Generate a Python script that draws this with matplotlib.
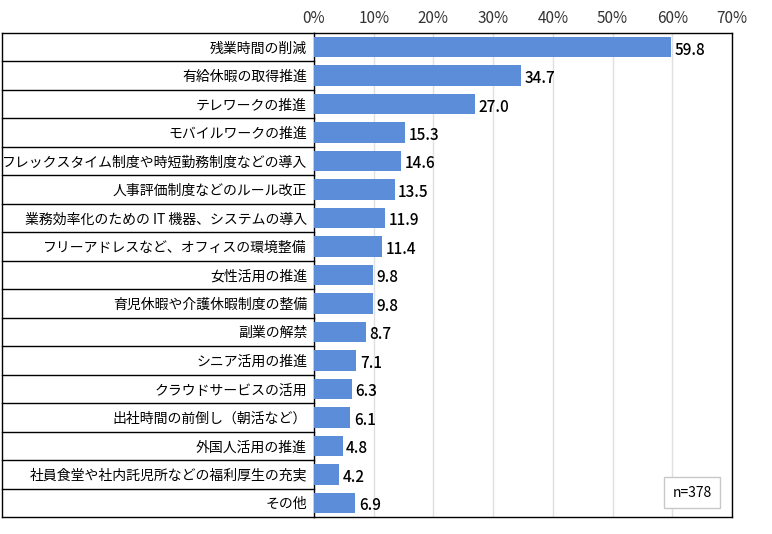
import matplotlib.pyplot as plt
import matplotlib.transforms as mtransforms

plt.rcParams['font.family'] = ['Noto Sans CJK JP', 'DejaVu Sans']

# data, top to bottom
categories = ['残業時間の削減',
              '有給休暇の取得推進',
              'テレワークの推進',
              'モバイルワークの推進',
              'フレックスタイム制度や時短勤務制度などの導入',
              '人事評価制度などのルール改正',
              '業務効率化のための IT 機器、システムの導入',
              'フリーアドレスなど、オフィスの環境整備',
              '女性活用の推進',
              '育児休暇や介護休暇制度の整備',
              '副業の解禁',
              'シニア活用の推進',
              'クラウドサービスの活用',
              '出社時間の前倒し（朝活など）',
              '外国人活用の推進',
              '社員食堂や社内託児所などの福利厚生の充実',
              'その他']
values = [59.8, 34.7, 27.0, 15.3, 14.6, 13.5, 11.9, 11.4, 9.8, 9.8,
          8.7, 7.1, 6.3, 6.1, 4.8, 4.2, 6.9]
xticks = [0, 10, 20, 30, 40, 50, 60, 70]
note = 'n=378'

W, H = 772, 534
fig = plt.figure(figsize=(W / 100, H / 100), dpi=100)
left, right, top, bottom = 314, 732, 33, 517
ax = fig.add_axes([left / W, 1 - bottom / H, (right - left) / W, (bottom - top) / H])

n = len(categories)
ypos = list(range(n))
ax.barh(ypos, values, height=0.72, color='#5b8dd9', zorder=3)
ax.set_ylim(n - 0.5, -0.5)
ax.set_xlim(0, 70)

# value labels
for y, v in zip(ypos, values):
    ax.text(v + 0.6, y + 0.1, '%.1f' % v, va='center', ha='left', fontsize=11,
            fontweight='medium', color='black')

# top axis
ax.xaxis.tick_top()
ax.set_xticks(xticks)
ax.set_xticklabels(['%d%%' % t for t in xticks], fontsize=11, color='#333333')
ax.tick_params(axis='x', length=0, pad=4)
ax.grid(axis='x', color='#e0e0e0', linewidth=1, zorder=0)

ax.set_yticks(ypos)
ax.set_yticklabels(categories, fontsize=10)
ax.tick_params(axis='y', length=0, pad=5)

for s in ax.spines.values():
    s.set_color('black')
    s.set_linewidth(1)

# table lines in the label area
trans = mtransforms.blended_transform_factory(ax.transAxes, ax.transData)
x0 = (2 - left) / (right - left)
for i in range(n + 1):
    ax.plot([x0, 0], [i - 0.5, i - 0.5], transform=trans, color='black',
            linewidth=1, clip_on=False, zorder=5)
ax.plot([x0, x0], [-0.5, n - 0.5], transform=trans, color='black',
        linewidth=1, clip_on=False, zorder=5)

# sample size box
ax.text(0.905, 0.05, note, transform=ax.transAxes, ha='center', va='center', fontsize=10,
        bbox=dict(boxstyle='square,pad=0.6', facecolor='white', edgecolor='#c8c8c8', linewidth=1),
        zorder=6)

fig.savefig('out.png', dpi=100)
